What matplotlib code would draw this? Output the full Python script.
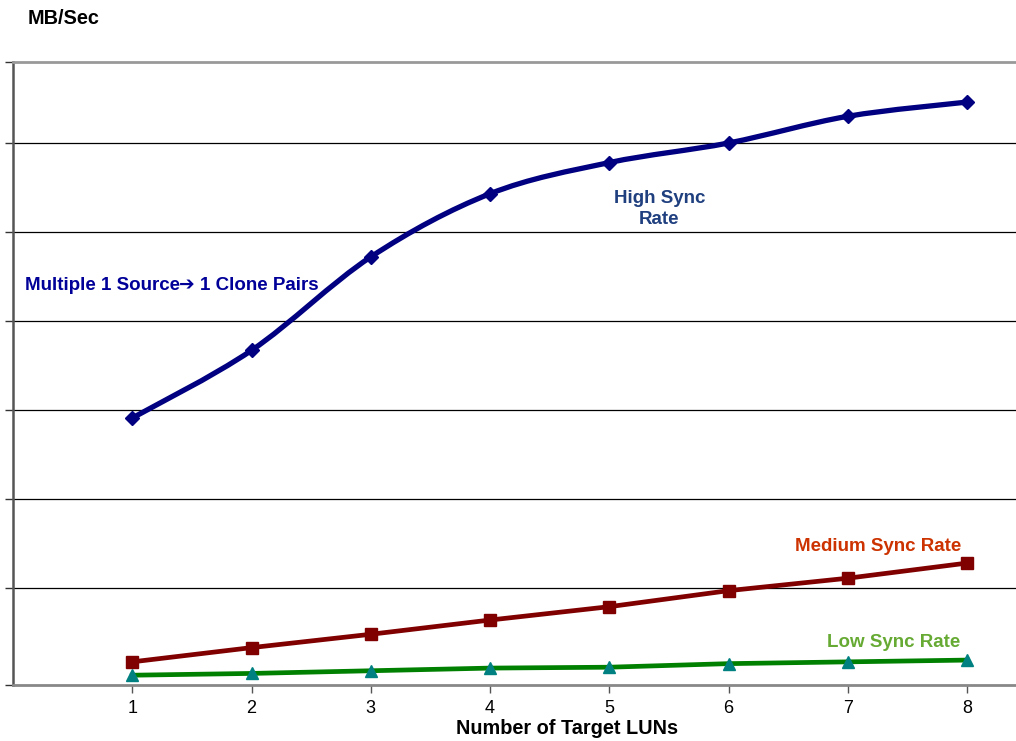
import numpy as np
import matplotlib.pyplot as plt
from matplotlib.path import Path
from matplotlib.patches import PathPatch

plt.rcParams['font.family'] = ['Liberation Sans', 'DejaVu Sans']

luns = [1, 2, 3, 4, 5, 6, 7, 8]
high_sync = [29.1, 36.7, 47.2, 54.3, 57.8, 60.0, 63.0, 64.6]
medium_sync = [1.7, 3.3, 4.8, 6.4, 7.9, 9.7, 11.1, 12.8]
low_sync = [0.2, 0.4, 0.7, 1.0, 1.1, 1.5, 1.7, 1.9]
grid_values = [10, 20, 30, 40, 50, 60]


def smooth_path(xs, ys):
    # Excel-style smoothed line: cubic bezier segments through the points
    pts = np.column_stack([xs, ys]).astype(float)
    n = len(pts)
    verts = [pts[0]]
    codes = [Path.MOVETO]
    for i in range(n - 1):
        p0 = pts[i - 1] if i > 0 else pts[i]
        p1 = pts[i]
        p2 = pts[i + 1]
        p3 = pts[i + 2] if i + 2 < n else pts[i + 1]
        c1 = p1 + (p2 - p0) / 6.0
        c2 = p2 - (p3 - p1) / 6.0
        verts += [c1, c2, p2]
        codes += [Path.CURVE4] * 3
    return Path(verts, codes)


fig = plt.figure(figsize=(10.16, 7.41), dpi=100)
ax = fig.add_axes([13 / 1016, 1 - 685 / 741, 1 - 13 / 1016, (685 - 62) / 741])

ax.set_xlim(0, 8.41)
ax.set_ylim(-0.9, 69.1)

for g in grid_values:
    ax.axhline(g, color='black', lw=0.9, zorder=1)

# high sync rate: smoothed line
ax.add_patch(PathPatch(smooth_path(luns, high_sync), facecolor='none',
                       edgecolor='#000080', lw=3.8, zorder=3, capstyle='round'))
ax.plot(luns, high_sync, ls='none', marker='D', ms=7, color='#000080', zorder=4)

ax.plot(luns, medium_sync, color='#800000', lw=3.4, marker='s', ms=8.5, zorder=3)
ax.plot(luns, low_sync, color='#008000', lw=3.4, zorder=3)
ax.plot(luns, low_sync, ls='none', marker='^', ms=8.5, color='#008080', zorder=4)

ax.set_xticks(luns)
ax.set_xticklabels([str(v) for v in luns], fontsize=13)
ax.set_yticks([-0.9] + grid_values + [69.1])
ax.set_yticklabels([])
ax.tick_params(axis='x', direction='out', length=6, width=1, color='#555555', pad=5)
ax.tick_params(axis='y', direction='out', length=6, width=1, color='#333333')

ax.spines['right'].set_visible(False)
ax.spines['top'].set_color('#999999')
ax.spines['top'].set_linewidth(2)
ax.spines['left'].set_color('#555555')
ax.spines['left'].set_linewidth(1.8)
ax.spines['bottom'].set_color('#888888')
ax.spines['bottom'].set_linewidth(2)

fig.text(567 / 1016, 1 - 729 / 741, 'Number of Target LUNs', fontsize=14.3,
         fontweight='bold', ha='center', va='center')

fig.text(28 / 1016, 1 - 18 / 741, 'MB/Sec', fontsize=14.3, fontweight='bold',
         ha='left', va='center')

ax.text(0.1, 43.95, 'Multiple 1 Source', fontsize=13.5,
        fontweight='bold', color='#000099', ha='left', va='center')
ax.text(1.395, 43.95, '\u2794 1 Clone Pairs', fontsize=13.5,
        fontweight='bold', color='#000099', ha='left', va='center')
ax.text(5.42, 52.55, 'High Sync\nRate', fontsize=13.5, fontweight='bold',
        color='#1F3F7F', ha='center', va='center', linespacing=1.3)
ax.text(7.95, 14.65, 'Medium Sync Rate', fontsize=13.5, fontweight='bold',
        color='#CC3300', ha='right', va='center')
ax.text(7.94, 3.85, 'Low Sync Rate', fontsize=13.5, fontweight='bold',
        color='#66AA33', ha='right', va='center')

fig.savefig('out.png', dpi=100)
